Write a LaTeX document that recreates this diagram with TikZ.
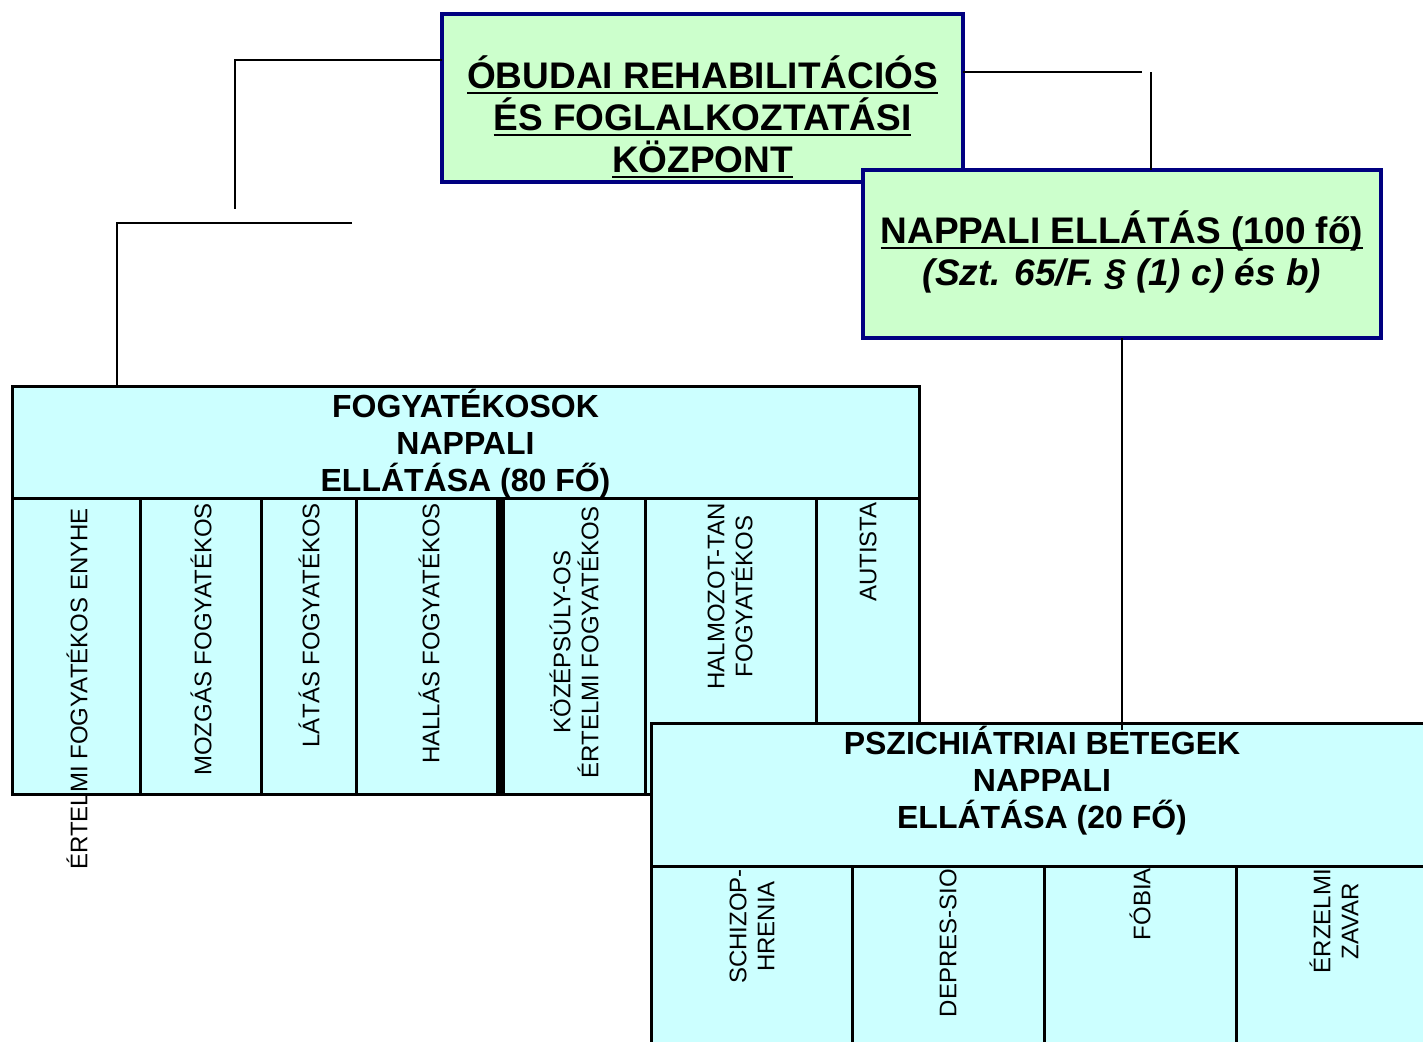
\documentclass[tikz,border=0pt]{standalone}
\usepackage{fontspec}
\setmainfont{Liberation Sans}
\usetikzlibrary{calc}
\definecolor{navyb}{RGB}{0,0,128}
\definecolor{palegreen}{RGB}{204,255,204}
\definecolor{palecyan}{RGB}{204,255,255}
\newlength\myulw
\newcommand\myul[1]{\settowidth\myulw{#1}\rlap{\rule[-5pt]{\myulw}{2pt}}#1}
\begin{document}
\begin{tikzpicture}[x=1pt,y=-1pt,
  greenbox/.style={rectangle, draw=navyb, fill=palegreen, line width=3.5pt, inner sep=0pt, outer sep=0pt},
  cyanbox/.style={rectangle, draw=black, fill=palecyan, line width=3pt, inner sep=0pt, outer sep=0pt},
  conn/.style={draw=black, line width=2pt},
  rule/.style={draw=black, line width=3pt},
  thickrule/.style={draw=black, line width=9pt},
  titletext/.style={align=center, inner sep=0pt, font=\bfseries\fontsize{37}{42}\selectfont},
  headtext/.style={align=center, inner sep=0pt, font=\bfseries\fontsize{32}{37}\selectfont},
  vtext/.style={rotate=90, anchor=east, align=center, inner sep=0pt, font=\fontsize{24}{28}\selectfont}
]
\useasboundingbox (0,0) rectangle (1423,1041);
\clip (0,0) rectangle (1423,1041);

% top box
\node[greenbox, minimum width=521pt, minimum height=168pt] (top) at (702.5,98) {};
\node[titletext] (toptxt) at (702.5,117) {\myul{ÓBUDAI REHABILITÁCIÓS}\\\myul{ÉS FOGLALKOZTATÁSI}\\\myul{KÖZPONT}};

% nappali box
\node[greenbox, minimum width=518pt, minimum height=168pt] (nap) at (1122,254) {};
\node[titletext] (naptxt) at (1122,252) {\myul{NAPPALI ELLÁTÁS (100 fő)}\\{\itshape (Szt. 65/F. § (1) c) és b)}};

% connectors at top
\coordinate (lA) at (235,209);
\coordinate (lB) at (352,223);
\coordinate (rA) at (1142,72);
\coordinate (rB) at (1151,72);
\draw[conn] ($(top.north west)+(0,46)$) -| (lA);
\draw[conn] ($(top.north east)+(0,58)$) -- (rA);
\draw[conn] (rB) -- (rB |- nap.north);

% fogyatekosok table
\node[cyanbox, minimum width=907pt, minimum height=408pt] (fogy) at (465.5,590) {};
\draw[conn] (lB) -| ($(fogy.north west)+(105,0)$);
\draw[rule] (12,498) -- (919,498);
\draw[rule] (140,498) -- (140,794);
\draw[rule] (261,498) -- (261,794);
\draw[rule] (356,498) -- (356,794);
\draw[thickrule] (500.5,498) -- (500.5,794);
\draw[rule] (645,498) -- (645,794);
\draw[rule] (816,498) -- (816,794);
\node[headtext] (fogytxt) at (465.5,444) {FOGYATÉKOSOK\\NAPPALI\\ELLÁTÁSA (80 FŐ)};
\node[vtext] (t1) at (77,508) {ÉRTELMI FOGYATÉKOS ENYHE};
\node[vtext] (t2) at (201,503) {MOZGÁS FOGYATÉKOS};
\node[vtext] (t3) at (309,503) {LÁTÁS FOGYATÉKOS};
\node[vtext] (t4) at (429,503) {HALLÁS FOGYATÉKOS};
\node[vtext] (t5) at (574,506) {KÖZÉPSÚLY-OS\\ÉRTELMI FOGYATÉKOS};
\node[vtext] (t6) at (730,503) {HALMOZOT-TAN\\FOGYATÉKOS};
\node[vtext] (t7) at (868,502) {AUTISTA};

% pszichiatriai table
\node[cyanbox, minimum width=782pt, minimum height=340pt] (psz) at (1042,893) {};
\draw[rule] (651,866) -- (1440,866);
\draw[rule] (852,866) -- (852,1050);
\draw[rule] (1044,866) -- (1044,1050);
\draw[rule] (1236,866) -- (1236,1050);
\node[headtext] (psztxt) at (1042,781) {PSZICHIÁTRIAI BETEGEK\\NAPPALI\\ELLÁTÁSA (20 FŐ)};
\node[vtext] (s1) at (752,869) {SCHIZOP-\\HRENIA};
\node[vtext] (s2) at (948,869) {DEPRES-SIO};
\node[vtext] (s3) at (1140,868) {FÓBIA};
\node[vtext] (s4) at (1334,869) {ÉRZELMI\\ZAVAR};

% nappali to pszichiatriai
\coordinate (pend) at (1122,730);
\draw[conn] (nap.south) -- (pend);
\end{tikzpicture}
\end{document}
